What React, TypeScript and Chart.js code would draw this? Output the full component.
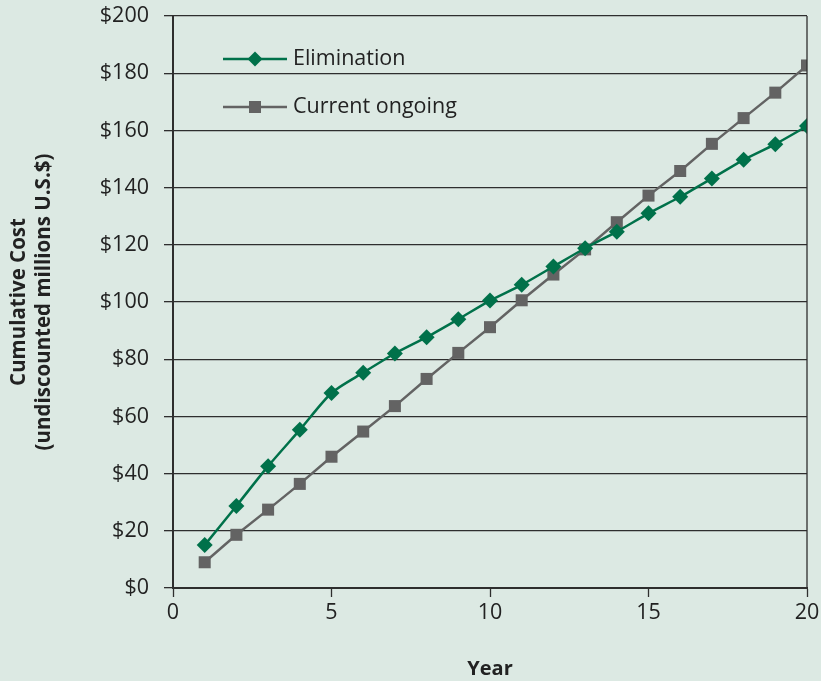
import React, { useEffect, useRef } from 'react';
import { Chart, registerables } from 'chart.js';

Chart.register(...registerables);

const years = [1, 2, 3, 4, 5, 6, 7, 8, 9, 10, 11, 12, 13, 14, 15, 16, 17, 18, 19, 20];
const elimination = [15.0, 28.7, 42.6, 55.3, 68.2, 75.3, 82.0, 87.7, 94.0, 100.5, 106.0, 112.4, 118.8, 124.6, 131.0, 136.8, 143.2, 149.7, 155.2, 161.5];
const currentOngoing = [9.0, 18.6, 27.4, 36.4, 45.9, 54.7, 63.6, 73.1, 82.2, 91.2, 100.6, 109.6, 118.4, 127.9, 137.2, 145.8, 155.3, 164.3, 173.2, 182.7];
const seriesNames = ['Elimination', 'Current ongoing'];
const yTitle = ['Cumulative Cost', '(undiscounted millions U.S.$)'];
const xTitle = 'Year';

const GREEN = '#00714a';
const GRAY = '#636363';
const DARK = '#2e2e2e';
const BG = '#dce9e3';
const FONT = '"Open Sans", "Noto Sans", sans-serif';

const legendPlugin = {
  id: 'insideLegend',
  afterDraw(chart: any) {
    const ctx = chart.ctx;
    const area = chart.chartArea;
    const x0 = area.left + 50;
    const x1 = x0 + 64;
    const rows = [
      { y: area.top + 43, color: GREEN, style: 'diamond', label: seriesNames[0] },
      { y: area.top + 91, color: GRAY, style: 'square', label: seriesNames[1] },
    ];
    ctx.save();
    ctx.strokeStyle = DARK;
    ctx.lineWidth = 1.3;
    ctx.beginPath();
    ctx.moveTo(area.right, area.top);
    ctx.lineTo(area.right, area.bottom);
    ctx.stroke();
    for (const r of rows) {
      ctx.strokeStyle = r.color;
      ctx.lineWidth = 2.5;
      ctx.beginPath();
      ctx.moveTo(x0, r.y);
      ctx.lineTo(x1, r.y);
      ctx.stroke();
      const cx = (x0 + x1) / 2;
      ctx.fillStyle = r.color;
      ctx.beginPath();
      if (r.style === 'diamond') {
        ctx.moveTo(cx, r.y - 7.5);
        ctx.lineTo(cx + 7.5, r.y);
        ctx.lineTo(cx, r.y + 7.5);
        ctx.lineTo(cx - 7.5, r.y);
        ctx.closePath();
      } else {
        ctx.rect(cx - 6, r.y - 6, 12, 12);
      }
      ctx.fill();
      ctx.fillStyle = '#222';
      ctx.font = `21.5px ${FONT}`;
      ctx.textAlign = 'left';
      ctx.textBaseline = 'middle';
      ctx.fillText(r.label, x1 + 6, r.y);
    }
    ctx.restore();
  },
};

export default function App() {
  const ref = useRef<HTMLCanvasElement | null>(null);

  useEffect(() => {
    document.body.style.margin = '0';
    const canvas = ref.current;
    if (!canvas) return;
    const chart = new Chart(canvas, {
      type: 'line',
      data: {
        datasets: [
          {
            label: seriesNames[0],
            data: years.map((x, i) => ({ x, y: elimination[i] })),
            borderColor: GREEN,
            backgroundColor: GREEN,
            borderWidth: 2.5,
            pointStyle: 'rectRot',
            pointRadius: 8,
            pointBorderWidth: 0,
            tension: 0.25,
          },
          {
            label: seriesNames[1],
            data: years.map((x, i) => ({ x, y: currentOngoing[i] })),
            borderColor: GRAY,
            backgroundColor: GRAY,
            borderWidth: 2.5,
            pointStyle: 'rect',
            pointRadius: 8.5,
            pointBorderWidth: 0,
            tension: 0,
          },
        ],
      },
      options: {
        animation: false,
        responsive: false,
        maintainAspectRatio: false,
        layout: { padding: { top: 16, right: 14, left: 0, bottom: 0 } },
        plugins: {
          legend: { display: false },
          tooltip: { enabled: false },
        },
        scales: {
          x: {
            type: 'linear',
            min: 0,
            max: 20,
            ticks: {
              stepSize: 5,
              color: '#222',
              font: { family: FONT, size: 21.5 },
              padding: 3,
              maxRotation: 0,
            },
            grid: {
              drawOnChartArea: false,
              tickLength: 9,
              tickColor: DARK,
              tickWidth: 1.3,
            },
            border: { color: DARK, width: 2 },
            title: {
              display: true,
              text: xTitle,
              color: '#222',
              font: { family: FONT, size: 20, weight: 'bold' },
              padding: { top: 12, bottom: 0 },
            },
            afterFit(scale: any) {
              scale.height = 93;
              scale.paddingLeft = 0;
              scale.paddingRight = 0;
            },
          },
          y: {
            min: 0,
            max: 200,
            ticks: {
              stepSize: 20,
              color: '#222',
              font: { family: FONT, size: 21.5 },
              padding: 15,
              callback: (v: any) => '$' + v,
            },
            grid: {
              color: DARK,
              lineWidth: 1.3,
              tickLength: 9,
              tickColor: DARK,
            },
            border: { color: DARK, width: 2 },
            title: {
              display: true,
              text: yTitle,
              color: '#222',
              font: { family: FONT, size: 20.5, weight: 'bold', lineHeight: 1.22 },
              padding: { top: 7, bottom: 0 },
            },
            afterFit(scale: any) {
              scale.width = 173;
              scale.paddingTop = 0;
              scale.paddingBottom = 0;
            },
          },
        },
      },
      plugins: [legendPlugin],
    });
    return () => chart.destroy();
  }, []);

  return (
    <div style={{ width: 821, height: 681, background: BG }}>
      <canvas ref={ref} width={821} height={681} style={{ display: 'block' }} />
    </div>
  );
}
